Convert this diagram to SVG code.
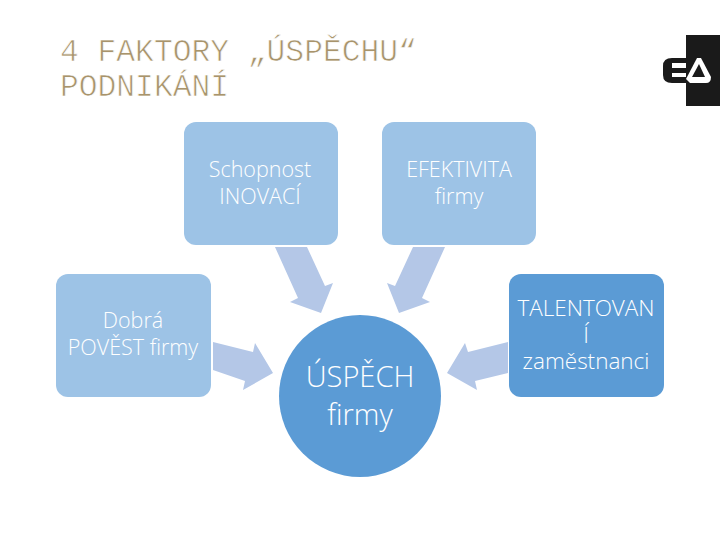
<svg xmlns="http://www.w3.org/2000/svg" width="720" height="540" viewBox="0 0 720 540">
<style>
.title{font-family:"Liberation Mono",monospace;font-size:31.3px;fill:#a8946c;stroke:#fff;stroke-width:.7px}
.box{fill:#9dc3e6}
.dark{fill:#5b9bd5}
.arrow{fill:#b4c7e7}
.lbl{font-family:"Open Sans","Noto Sans",sans-serif;font-size:21.5px;font-weight:300;fill:#fff;text-anchor:middle}
.tal{font-size:22.5px}
.big{font-size:29px}
</style>
<rect width="720" height="540" fill="#fff"/>
<g id="title">
<text class="title" x="60" y="61">4 FAKTORY „ÚSPĚCHU“</text>
<text class="title" x="60" y="96">PODNIKÁNÍ</text>
</g>
<g id="logo">
<rect x="686" y="35" width="34" height="71" fill="#1a1a1a"/>
<path d="M672 58H686V63H672V68H686V73H672V77H686V83H672Q663 83 663 75V66Q663 58 672 58Z" fill="#1a1a1a"/>
<path d="M686 79L697 58H701L711 77Q711 83 706 83H690Z" fill="#fff"/>
<path d="M692 77L699 64L705 77Z" fill="#1a1a1a"/>
</g>
<g id="connectors">
<path class="arrow" d="M275 247H307L325 286L333 283L321 313L290 302L298 298Z"/>
<path class="arrow" d="M445 247H413L395 286L387 283L399 313L430 302L422 298Z"/>
<path class="arrow" d="M213 342L253 352L255 343L273 373L243 390L245 381L213 370Z"/>
<path class="arrow" d="M508 342L468 352L465 343L447 373L477 390L475 381L508 373Z"/>
</g>
<g id="node-inovace">
<rect class="box" x="184" y="122" width="154" height="123" rx="12"/>
<text class="lbl" x="260" y="177">Schopnost</text>
<text class="lbl" x="260" y="204">INOVACÍ</text>
</g>
<g id="node-efektivita">
<rect class="box" x="382" y="122" width="154" height="123" rx="12"/>
<text class="lbl" x="459" y="177">EFEKTIVITA</text>
<text class="lbl" x="459" y="204">firmy</text>
</g>
<g id="node-povest">
<rect class="box" x="56" y="274" width="155" height="123" rx="12"/>
<text class="lbl" x="133" y="328">Dobrá</text>
<text class="lbl" x="133" y="355">POVĚST firmy</text>
</g>
<g id="node-talenty">
<rect class="dark" x="509" y="274" width="155" height="123" rx="12"/>
<text class="lbl tal" x="586" y="316">TALENTOVAN<tspan x="586" y="343">Í</tspan><tspan x="586" y="369">zaměstnanci</tspan></text>
</g>
<g id="node-uspech">
<circle class="dark" cx="360" cy="396" r="81"/>
<text class="lbl big" x="360" y="387">ÚSPĚCH</text>
<text class="lbl big" x="360" y="425">firmy</text>
</g>
</svg>
